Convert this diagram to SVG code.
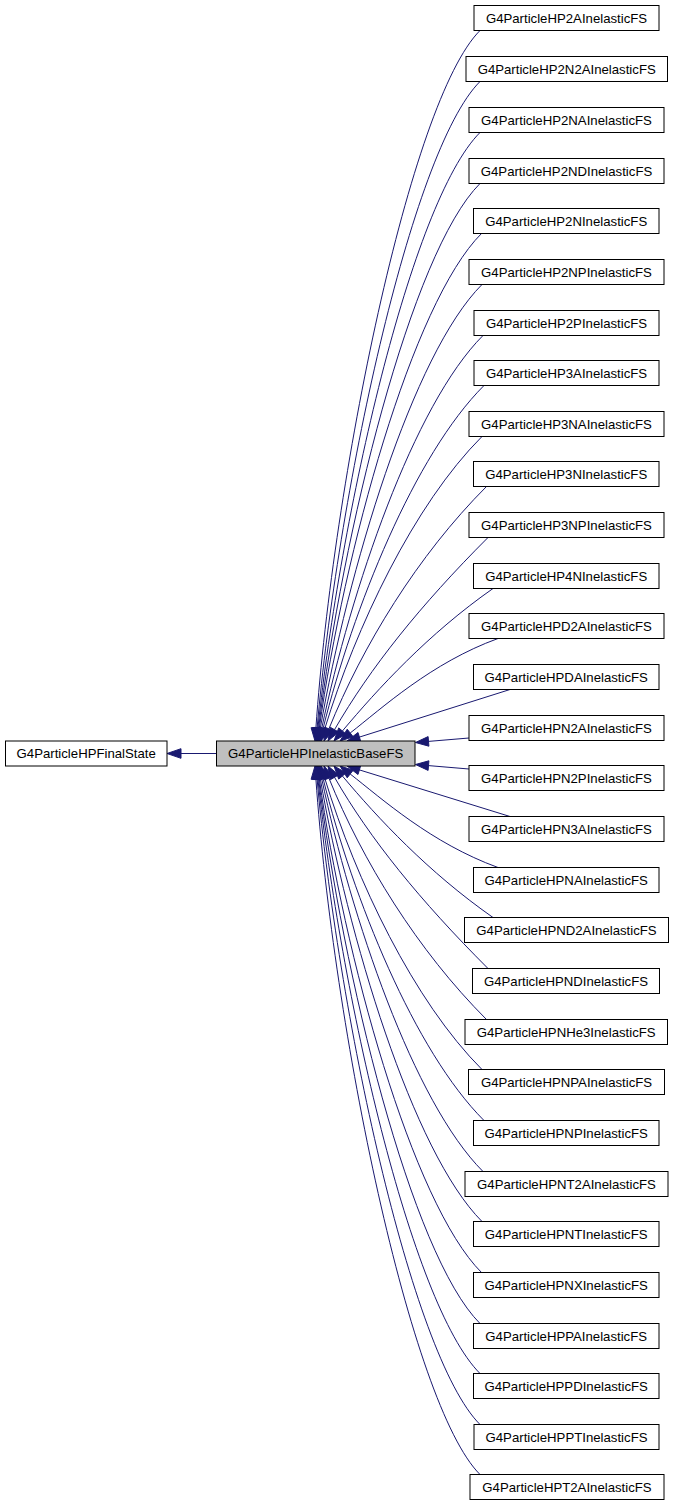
<svg xmlns="http://www.w3.org/2000/svg" width="675" height="1507" viewBox="0 0 675 1507">
<style>
.box{fill:#ffffff;stroke:#000000;stroke-width:1}
.base{fill:#bfbfbf;stroke:#000000;stroke-width:1}
.lbl{font-family:"Liberation Sans",Arial,Helvetica,sans-serif;font-size:13.2px;fill:#000000;text-anchor:middle}
.e{fill:none;stroke:#191970;stroke-width:1}
.ah{fill:#191970;stroke:#191970;stroke-width:1}
</style>
<rect width="675" height="1507" fill="#ffffff"/>
<g id="edges">
<path class="e" d="M216.5,753.5 L181,753.5"/><polygon class="ah" points="167,753.5 181,748.7 181,758.3"/>
<path class="e" d="M480,30.5 C410,100.5 333.3,479.9 315.9,728"/><polygon class="ah" points="315,741 320.7,728.3 311.1,727.7"/>
<path class="e" d="M480,81.5 C410.4,151.1 337.2,498.1 317.1,728"/><polygon class="ah" points="316,741 321.9,728.4 312.3,727.6"/>
<path class="e" d="M480,132.5 C410.6,201.9 340.2,516.3 317.9,728.1"/><polygon class="ah" points="316.5,741 322.7,728.6 313.1,727.6"/>
<path class="e" d="M480,183.5 C410.8,252.7 342.4,534.5 318.6,728.1"/><polygon class="ah" points="317,741 323.4,728.7 313.8,727.5"/>
<path class="e" d="M481.5,233.5 C411.9,303.1 344,552.2 319.3,728.1"/><polygon class="ah" points="317.5,741 324.1,728.8 314.6,727.4"/>
<path class="e" d="M482,284.5 C412.4,354.1 348,570.8 320.3,728.2"/><polygon class="ah" points="318,741 325,729 315.6,727.4"/>
<path class="e" d="M483,335.5 C413.4,405.1 351.2,589.5 321.7,728.3"/><polygon class="ah" points="319,741 326.4,729.3 317,727.3"/>
<path class="e" d="M484,385.5 C414.4,455.1 353.2,607.7 323.1,728.4"/><polygon class="ah" points="320,741 327.8,729.6 318.4,727.2"/>
<path class="e" d="M482,436.5 C413.7,504.8 356,626.7 324.8,728.6"/><polygon class="ah" points="321,741 329.4,730 320.2,727.2"/>
<path class="e" d="M486.5,486.5 C417.6,555.4 362.3,646.3 328.9,728.9"/><polygon class="ah" points="324,741 333.4,730.7 324.5,727.1"/>
<path class="e" d="M488,537.5 C420.1,605.4 370.1,668 334.5,729.7"/><polygon class="ah" points="328,741 338.7,732.1 330.3,727.3"/>
<path class="e" d="M493,588.5 C427.9,634.1 377.8,688.9 342.4,731"/><polygon class="ah" points="334,741 346.1,734.1 338.7,727.9"/>
<path class="e" d="M498,638.5 C431.2,662.8 381.7,708.4 350.2,733"/><polygon class="ah" points="340,741 353.2,736.8 347.2,729.2"/>
<path class="e" d="M510,689.5 L359.4,737.1"/><polygon class="ah" points="347,741 360.8,741.7 358,732.5"/>
<path class="e" d="M469,738 L428.5,741.4"/><polygon class="ah" points="415.5,742.5 428.9,746.2 428.1,736.6"/>
<path class="e" d="M469,769 L428.5,765.6"/><polygon class="ah" points="415.5,764.5 428.1,770.4 428.9,760.8"/>
<path class="e" d="M510,816.5 L359.4,769.9"/><polygon class="ah" points="347,766 360.8,765.3 358,774.5"/>
<path class="e" d="M498,867.5 C431.2,843.2 381.7,798.6 350.2,774"/><polygon class="ah" points="340,766 353.2,770.2 347.2,777.8"/>
<path class="e" d="M493,917.5 C427.9,871.9 377.8,818.1 342.4,776"/><polygon class="ah" points="334,766 346.1,772.9 338.7,779.1"/>
<path class="e" d="M488,968.5 C420.1,900.6 370.1,839 334.5,777.3"/><polygon class="ah" points="328,766 338.7,774.9 330.3,779.7"/>
<path class="e" d="M486.5,1019.5 C417.6,950.6 362.3,860.7 328.9,778.1"/><polygon class="ah" points="324,766 333.4,776.3 324.5,779.9"/>
<path class="e" d="M482,1069.5 C413.7,1001.2 356,880.3 324.8,778.4"/><polygon class="ah" points="321,766 329.4,777 320.2,779.8"/>
<path class="e" d="M484,1120.5 C414.4,1050.9 353.2,899.3 323.1,778.6"/><polygon class="ah" points="320,766 327.8,777.4 318.4,779.8"/>
<path class="e" d="M483,1171.5 C413.4,1101.9 351.2,917.5 321.7,778.7"/><polygon class="ah" points="319,766 326.4,777.7 317,779.7"/>
<path class="e" d="M482,1221.5 C412.4,1151.9 348,936.2 320.3,778.8"/><polygon class="ah" points="318,766 325,778 315.6,779.6"/>
<path class="e" d="M481.5,1272.5 C411.9,1202.9 344,954.8 319.3,778.9"/><polygon class="ah" points="317.5,766 324.1,778.2 314.6,779.6"/>
<path class="e" d="M480,1323.5 C410.8,1254.3 342.4,972.5 318.6,778.9"/><polygon class="ah" points="317,766 323.4,778.3 313.8,779.5"/>
<path class="e" d="M480,1373.5 C410.6,1304.1 340.2,990.7 317.9,778.9"/><polygon class="ah" points="316.5,766 322.7,778.4 313.1,779.4"/>
<path class="e" d="M480,1424.5 C410.4,1354.9 337.2,1008.9 317.1,779"/><polygon class="ah" points="316,766 321.9,778.6 312.3,779.4"/>
<path class="e" d="M480,1474.5 C410,1404.5 333.3,1027.1 315.9,779"/><polygon class="ah" points="315,766 320.7,778.7 311.1,779.3"/>
</g>
<g id="n_finalstate"><rect class="box" x="5.5" y="741" width="161.5" height="25"/><text class="lbl" x="86.2" y="758">G4ParticleHPFinalState</text></g>
<g id="n_base"><rect class="base" x="216.5" y="741" width="198.5" height="25"/><text class="lbl" x="315.7" y="758">G4ParticleHPInelasticBaseFS</text></g>
<g id="n0"><rect class="box" x="474" y="5.5" width="185" height="25"/><text class="lbl" x="566.5" y="22.5">G4ParticleHP2AInelasticFS</text></g>
<g id="n1"><rect class="box" x="466" y="56.5" width="201.5" height="25"/><text class="lbl" x="566.7" y="73.5">G4ParticleHP2N2AInelasticFS</text></g>
<g id="n2"><rect class="box" x="469" y="107.5" width="195" height="25"/><text class="lbl" x="566.5" y="124.5">G4ParticleHP2NAInelasticFS</text></g>
<g id="n3"><rect class="box" x="469" y="158.5" width="195" height="25"/><text class="lbl" x="566.5" y="175.5">G4ParticleHP2NDInelasticFS</text></g>
<g id="n4"><rect class="box" x="473.5" y="208.5" width="185.5" height="25"/><text class="lbl" x="566.2" y="225.5">G4ParticleHP2NInelasticFS</text></g>
<g id="n5"><rect class="box" x="469" y="259.5" width="195" height="25"/><text class="lbl" x="566.5" y="276.5">G4ParticleHP2NPInelasticFS</text></g>
<g id="n6"><rect class="box" x="474" y="310.5" width="185" height="25"/><text class="lbl" x="566.5" y="327.5">G4ParticleHP2PInelasticFS</text></g>
<g id="n7"><rect class="box" x="474" y="360.5" width="185" height="25"/><text class="lbl" x="566.5" y="377.5">G4ParticleHP3AInelasticFS</text></g>
<g id="n8"><rect class="box" x="469" y="411.5" width="195" height="25"/><text class="lbl" x="566.5" y="428.5">G4ParticleHP3NAInelasticFS</text></g>
<g id="n9"><rect class="box" x="473.5" y="461.5" width="185.5" height="25"/><text class="lbl" x="566.2" y="478.5">G4ParticleHP3NInelasticFS</text></g>
<g id="n10"><rect class="box" x="469" y="512.5" width="195" height="25"/><text class="lbl" x="566.5" y="529.5">G4ParticleHP3NPInelasticFS</text></g>
<g id="n11"><rect class="box" x="473.5" y="563.5" width="185.5" height="25"/><text class="lbl" x="566.2" y="580.5">G4ParticleHP4NInelasticFS</text></g>
<g id="n12"><rect class="box" x="469" y="613.5" width="195" height="25"/><text class="lbl" x="566.5" y="630.5">G4ParticleHPD2AInelasticFS</text></g>
<g id="n13"><rect class="box" x="473.5" y="664.5" width="185.5" height="25"/><text class="lbl" x="566.2" y="681.5">G4ParticleHPDAInelasticFS</text></g>
<g id="n14"><rect class="box" x="469" y="715.5" width="195" height="25"/><text class="lbl" x="566.5" y="732.5">G4ParticleHPN2AInelasticFS</text></g>
<g id="n15"><rect class="box" x="469" y="765.5" width="195" height="25"/><text class="lbl" x="566.5" y="782.5">G4ParticleHPN2PInelasticFS</text></g>
<g id="n16"><rect class="box" x="469" y="816.5" width="195" height="25"/><text class="lbl" x="566.5" y="833.5">G4ParticleHPN3AInelasticFS</text></g>
<g id="n17"><rect class="box" x="473.5" y="867.5" width="185.5" height="25"/><text class="lbl" x="566.2" y="884.5">G4ParticleHPNAInelasticFS</text></g>
<g id="n18"><rect class="box" x="464.5" y="917.5" width="204" height="25"/><text class="lbl" x="566.5" y="934.5">G4ParticleHPND2AInelasticFS</text></g>
<g id="n19"><rect class="box" x="472.5" y="968.5" width="187" height="25"/><text class="lbl" x="566" y="985.5">G4ParticleHPNDInelasticFS</text></g>
<g id="n20"><rect class="box" x="465" y="1019.5" width="202.5" height="25"/><text class="lbl" x="566.2" y="1036.5">G4ParticleHPNHe3InelasticFS</text></g>
<g id="n21"><rect class="box" x="468.5" y="1069.5" width="196" height="25"/><text class="lbl" x="566.5" y="1086.5">G4ParticleHPNPAInelasticFS</text></g>
<g id="n22"><rect class="box" x="473.5" y="1120.5" width="185.5" height="25"/><text class="lbl" x="566.2" y="1137.5">G4ParticleHPNPInelasticFS</text></g>
<g id="n23"><rect class="box" x="465" y="1171.5" width="203" height="25"/><text class="lbl" x="566.5" y="1188.5">G4ParticleHPNT2AInelasticFS</text></g>
<g id="n24"><rect class="box" x="473.5" y="1221.5" width="185.5" height="25"/><text class="lbl" x="566.2" y="1238.5">G4ParticleHPNTInelasticFS</text></g>
<g id="n25"><rect class="box" x="473.5" y="1272.5" width="185.5" height="25"/><text class="lbl" x="566.2" y="1289.5">G4ParticleHPNXInelasticFS</text></g>
<g id="n26"><rect class="box" x="473.5" y="1323.5" width="185.5" height="25"/><text class="lbl" x="566.2" y="1340.5">G4ParticleHPPAInelasticFS</text></g>
<g id="n27"><rect class="box" x="473.5" y="1373.5" width="185.5" height="25"/><text class="lbl" x="566.2" y="1390.5">G4ParticleHPPDInelasticFS</text></g>
<g id="n28"><rect class="box" x="474" y="1424.5" width="185" height="25"/><text class="lbl" x="566.5" y="1441.5">G4ParticleHPPTInelasticFS</text></g>
<g id="n29"><rect class="box" x="470" y="1474.5" width="194" height="25"/><text class="lbl" x="567" y="1491.5">G4ParticleHPT2AInelasticFS</text></g>
</svg>
